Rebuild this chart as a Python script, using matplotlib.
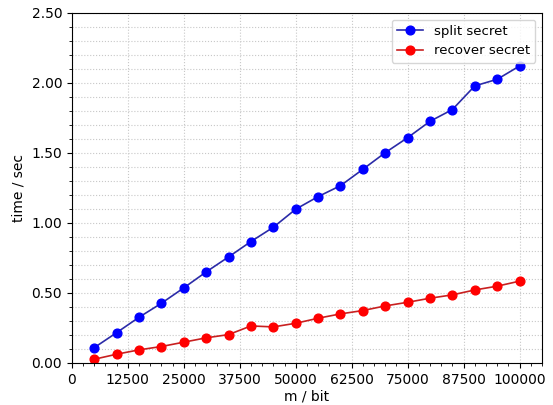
import matplotlib
matplotlib.use('Agg')
import matplotlib.pyplot as plt
from matplotlib.ticker import MultipleLocator, FormatStrFormatter

# message length in bits
m_bits = [5000, 10000, 15000, 20000, 25000, 30000, 35000, 40000, 45000, 50000,
          55000, 60000, 65000, 70000, 75000, 80000, 85000, 90000, 95000, 100000]
split_time = [0.109, 0.216, 0.326, 0.426, 0.536, 0.650, 0.757, 0.867, 0.969, 1.098,
              1.188, 1.266, 1.383, 1.502, 1.609, 1.726, 1.810, 1.979, 2.026, 2.121]
recover_time = [0.026, 0.062, 0.093, 0.117, 0.148, 0.179, 0.202, 0.264, 0.257, 0.283,
                0.319, 0.350, 0.374, 0.407, 0.433, 0.462, 0.486, 0.521, 0.548, 0.584]
x_ticks = [0, 12500, 25000, 37500, 50000, 62500, 75000, 87500, 100000]

fig = plt.figure(figsize=(5.53, 4.05), dpi=100)
ax = fig.add_axes([0.130, 0.104, 0.850, 0.864])

ax.plot(m_bits, split_time, '-', color='#2b2ba8', lw=1.2, marker='o', ms=6.3,
        mfc='#0000ff', mec='#0000ff', label='split secret')
ax.plot(m_bits, recover_time, '-', color='#c82020', lw=1.2, marker='o', ms=6.3,
        mfc='#ff0000', mec='#ff0000', label='recover secret')

ax.set_xlim(0, 105000)
ax.set_ylim(0, 2.5)
ax.set_xticks(x_ticks)
ax.xaxis.set_minor_locator(MultipleLocator(2500))
ax.yaxis.set_major_locator(MultipleLocator(0.5))
ax.yaxis.set_minor_locator(MultipleLocator(0.1))
ax.yaxis.set_major_formatter(FormatStrFormatter('%.2f'))

ax.xaxis.grid(True, which='major', linestyle=':', color='#c8c8c8', lw=0.8)
ax.yaxis.grid(True, which='both', linestyle=':', color='#c8c8c8', lw=0.8)
ax.set_axisbelow(True)

ax.set_xlabel('m / bit', labelpad=2)
ax.set_ylabel('time / sec')
ax.legend(loc='upper right', fontsize=9.5)

fig.savefig('out.png', dpi=100)
